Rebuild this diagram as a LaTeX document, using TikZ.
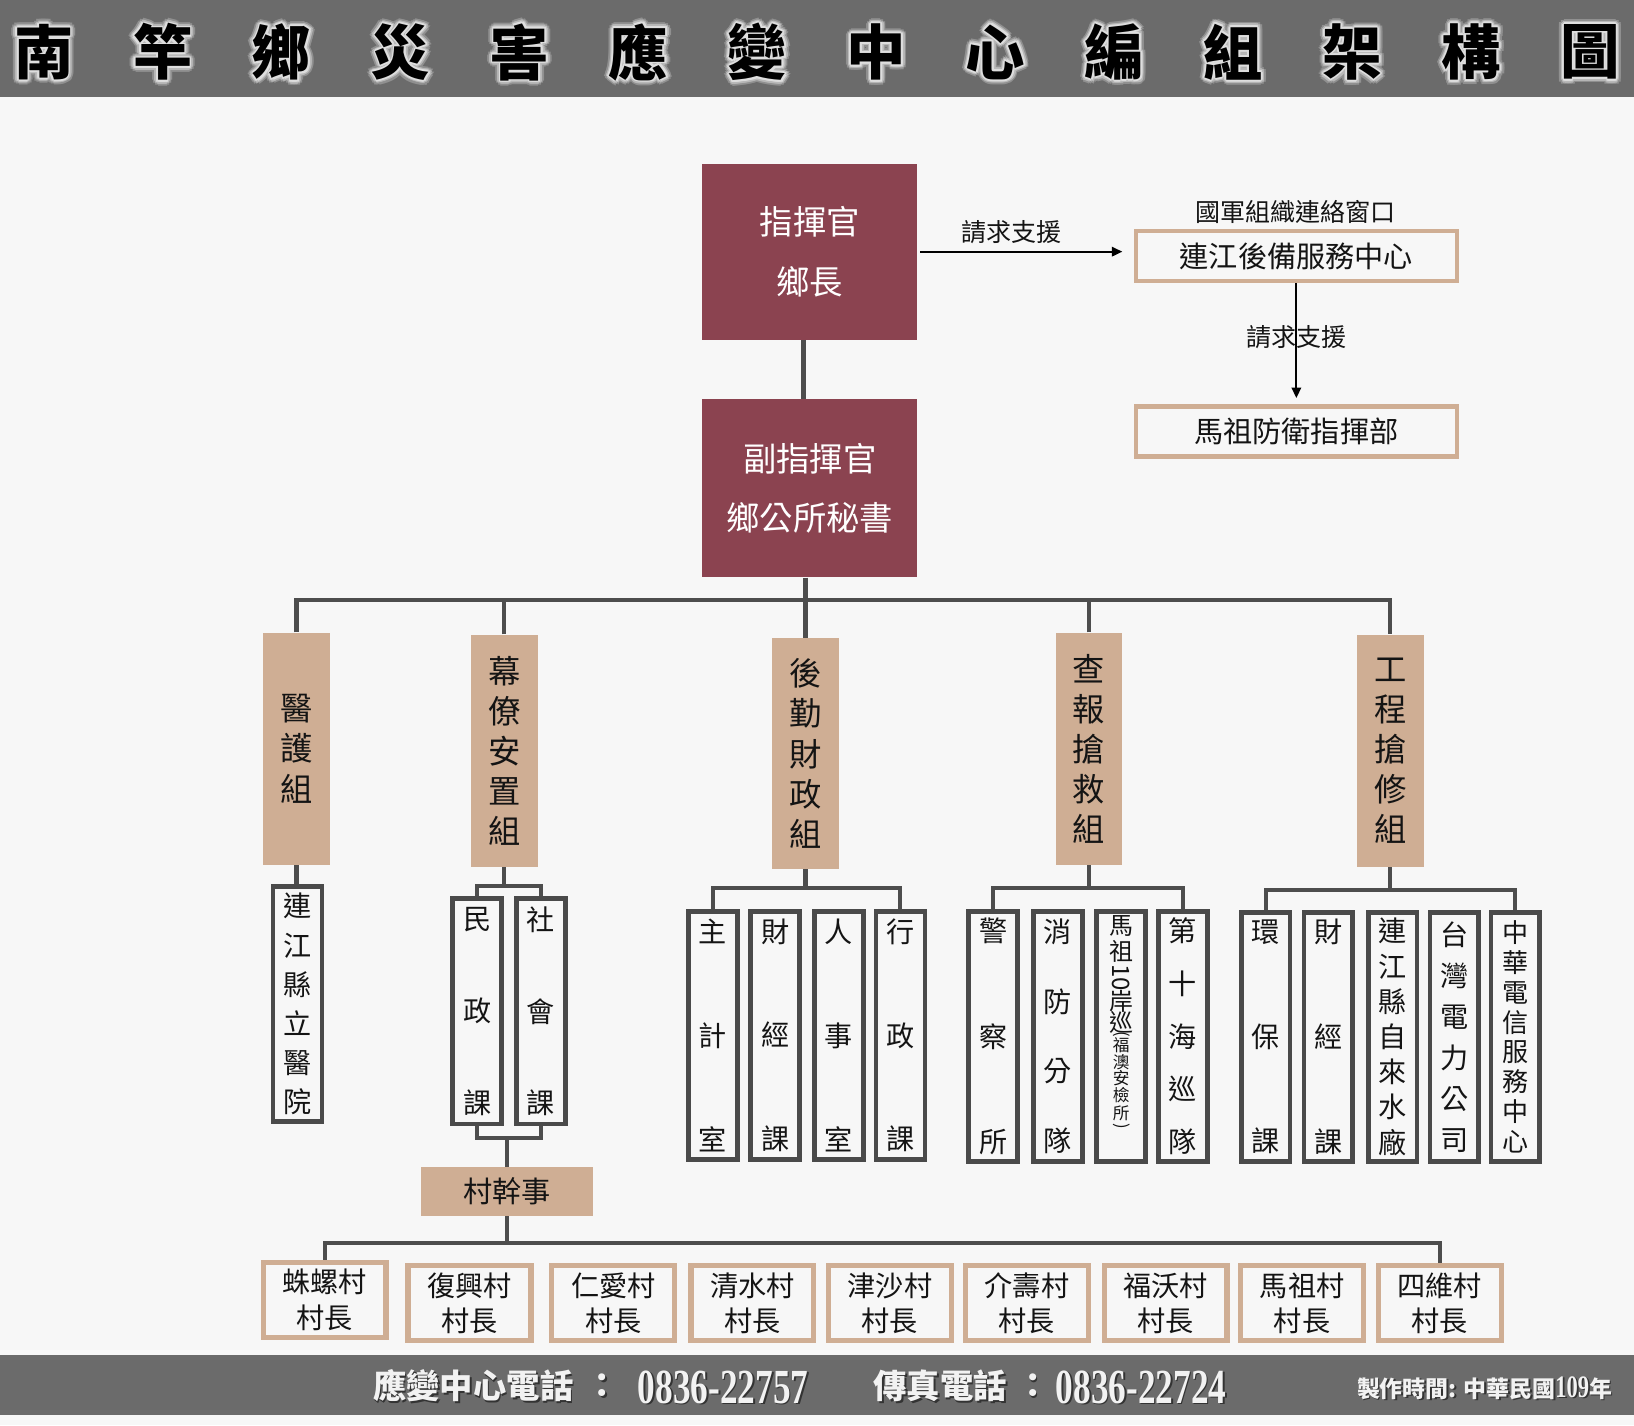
\documentclass[tikz,border=0pt]{standalone}
\usepackage{fontspec}
\usepackage{graphicx}
\usetikzlibrary{arrows.meta}
\newfontfamily\cjk{Noto Sans CJK TC}
\newfontfamily\digitfont{Liberation Serif}[FakeStretch=0.72]
\definecolor{bgc}{HTML}{F7F7F7}
\definecolor{band}{HTML}{6B6B6B}
\definecolor{maroon}{HTML}{8B4350}
\definecolor{tan}{HTML}{CFAE94}
\definecolor{linec}{HTML}{4D4D4D}
\definecolor{subc}{HTML}{4A4A4A}
\definecolor{txt}{HTML}{141414}
\definecolor{haloA}{HTML}{909090}
\definecolor{haloB}{HTML}{B8B8B8}
\definecolor{haloC}{HTML}{DEDEDE}
\definecolor{foot}{HTML}{F2F2F2}
\definecolor{footsh}{HTML}{333333}
\begin{document}
\begin{tikzpicture}[x=1pt,y=-1pt,
  conn/.style={draw=linec, line width=4pt, line join=miter},
  arr/.style={draw=black, line width=1.8pt, -{Triangle[length=10pt,width=9pt]}},
  cmdbox/.style={fill=maroon, inner sep=0pt, minimum width=206pt, text=white, align=center, font={\cjk\fontsize{32}{57}\selectfont}},
  sidebox/.style={draw=tan, line width=4pt, fill=bgc, inner sep=0pt, minimum width=308pt, minimum height=48pt, text=txt, font={\cjk\fontsize{28}{30}\selectfont}},
  grpbox/.style={fill=tan, inner sep=0pt, minimum width=64pt, minimum height=223pt, align=center, text=txt, font={\cjk\fontsize{31}{38.5}\selectfont}},
  subbox/.style={draw=subc, line width=4.5pt, fill=bgc, inner sep=0pt, minimum width=47pt, align=center, text=txt},
  vsp/.style={font={\cjk\fontsize{27}{#1}\selectfont}},
  vilbox/.style={draw=tan, line width=5pt, fill=bgc, inner sep=0pt, minimum width=118pt, minimum height=72pt, align=center, text=txt, font={\cjk\fontsize{27}{34}\selectfont}},
  lbl/.style={inner sep=0pt, text=txt, font={\cjk\fontsize{24}{26}\selectfont}},
  ttl/.style={inner sep=0pt, font={\cjk\bfseries\fontsize{57}{60}\selectfont}},
  ftc/.style={inner sep=0pt, anchor=west, font={\cjk\bfseries\fontsize{32}{34}\selectfont}},
  ftd/.style={inner sep=0pt, anchor=west, font={\digitfont\bfseries\fontsize{47}{50}\selectfont}},
  mzch/.style={inner sep=0pt, text=txt, font={\cjk\fontsize{#1}{#1}\selectfont}},
]
\useasboundingbox (0,0) rectangle (1568,1367.5);
% background and bands
\fill[bgc] (0,0) rectangle (1568,1367.5);
\fill[band] (0,0) rectangle (1568,93);
\fill[band] (0,1300) rectangle (1568,1358);

% title with glow
\foreach \c [count=\i from 0] in {南,竿,鄉,災,害,應,變,中,心,編,組,架,構,圖}{
  \pgfmathsetmacro\tx{42+114.15*\i}
  \foreach \a in {0,30,...,330}{
    \node[ttl, text=haloA, xshift={5*cos(\a)}, yshift={5*sin(\a)}] (ha\i-\a) at (\tx,50) {\c};
  }
  \foreach \a in {15,45,...,345}{
    \node[ttl, text=haloB, xshift={3.3*cos(\a)}, yshift={3.3*sin(\a)}] (hb\i-\a) at (\tx,50) {\c};
  }
  \foreach \a in {0,45,...,315}{
    \node[ttl, text=haloC, xshift={1.8*cos(\a)}, yshift={1.8*sin(\a)}] (hc\i-\a) at (\tx,50) {\c};
  }
  \node[ttl, text=black] (t\i) at (\tx,50) {\c};
}

% command boxes
\node[cmdbox, minimum height=169pt] (cmd1) at (777,241.5) {指揮官\\鄉長};
\node[cmdbox, minimum height=171pt] (cmd2) at (777,468.5) {副指揮官\\鄉公所秘書};
\draw[conn] ([xshift=-6pt]cmd1.south) -- ([xshift=-6pt]cmd2.north);

% support boxes
\node[sidebox] (side1) at (1244,246) {連江後備服務中心};
\node[sidebox] (side2) at (1244,414) {馬祖防衛指揮部};
\node[lbl] (lab0) at (1243,203) {國軍組織連絡窗口};
\draw[arr] ([xshift=3pt]cmd1.east) -- ([xshift=-11pt]cmd1.east -| side1.west)
  node[lbl, pos=0.45, above=7pt] (lab1) {請求支援};
\draw[arr] (side1.south) -- ([yshift=6pt]side2.north)
  node[lbl, midway, yshift=3pt] (lab2) {請求支援};

% groups
\node[grpbox] (g1) at (284.5,718.5) {醫\\護\\組};
\node[grpbox] (g2) at (484,720.5) {幕\\僚\\安\\置\\組};
\node[grpbox, minimum height=222pt] (g3) at (773,723) {後\\勤\\財\\政\\組};
\node[grpbox] (g4) at (1045,718.5) {查\\報\\搶\\救\\組};
\node[grpbox] (g5) at (1334,720.5) {工\\程\\搶\\修\\組};

\coordinate (bus) at (773,576);
\draw[conn] ([xshift=-4pt]cmd2.south) -- ([xshift=-4pt]cmd2.south |- bus);
\draw[conn] (g1.north) -- (g1.north |- bus) -- (g5.north |- bus) -- (g5.north);
\foreach \g in {g2,g3,g4}{
  \draw[conn] (\g.north) -- (\g.north |- bus);
}

% medical
\node[subbox, minimum height=226pt, vsp=37.6] (s1) at (285.5,963.5) {連\\江\\縣\\立\\醫\\院};
\draw[conn] (g1.south) -- (g1.south |- s1.north);

% staff
\node[subbox, minimum height=216pt, vsp=88] (s2a) at (458,970.5) {民\\政\\課};
\node[subbox, minimum height=216pt, vsp=88] (s2b) at (519,970.5) {社\\會\\課};
\coordinate (b2) at ([yshift=-18pt]g2.south);
\draw[conn] (g2.south) -- (b2);
\draw[conn] (s2a.north) -- (s2a.north |- b2) -- (s2b.north |- b2) -- (s2b.north);
\node[fill=tan, inner sep=0pt, minimum width=165pt, minimum height=47pt, text=txt, font={\cjk\fontsize{28}{30}\selectfont}] (vg) at (486.5,1143.5) {村幹事};
\coordinate (b2b) at (486.5,1092);
\draw[conn] (s2a.south) -- (s2a.south |- b2b) -- (s2b.south |- b2b) -- (s2b.south);
\draw[conn] (vg.north) -- (b2b);

% logistics
\node[subbox, minimum height=238pt, vsp=99.5] (s3a) at (684,993.5) {主\\計\\室};
\node[subbox, minimum height=238pt, vsp=99.5] (s3b) at (744,993.5) {財\\經\\課};
\node[subbox, minimum height=238pt, vsp=99.5] (s3c) at (805,993.5) {人\\事\\室};
\node[subbox, minimum height=238pt, vsp=99.5] (s3d) at (864,993.5) {行\\政\\課};
\coordinate (b3) at ([yshift=-18pt]g3.south);
\draw[conn] (g3.south) -- (b3);
\draw[conn] (s3a.north) -- (s3a.north |- b3) -- (s3d.north |- b3) -- (s3d.north);

% rescue
\node[subbox, minimum height=240pt, vsp=101] (s4a) at (953,994.5) {警\\察\\所};
\node[subbox, minimum height=240pt, vsp=67] (s4b) at (1015,994.5) {消\\防\\分\\隊};
\node[subbox, minimum height=240pt] (s4c) at (1076,994.5) {};
\node[subbox, minimum height=240pt, vsp=50.5] (s4d) at (1135,994.5) {第\\十\\海\\巡\\隊};
\foreach \c/\yy/\s [count=\k] in {馬/889/23, 祖/913/23, {\rotatebox{-90}{10}}/938/23, 岸/961/23, 巡/981/23, {\rotatebox{-90}{(}}/993/16, 福/1003/16, 澳/1019/16, 安/1035/16, 檢/1051/16, 所/1068/16, {\rotatebox{-90}{)}}/1081/16}{
  \node[mzch=\s] (mz\k) at (1076,\yy) {\c};
}
\coordinate (b4) at ([yshift=-22pt]g4.south);
\draw[conn] (g4.south) -- (b4);
\draw[conn] (s4a.north) -- (s4a.north |- b4) -- (s4d.north |- b4) -- (s4d.north);

% engineering
\node[subbox, minimum width=46.5pt, minimum height=239pt, vsp=100.5] (s5a) at (1214.5,995) {環\\保\\課};
\node[subbox, minimum width=46.5pt, minimum height=239pt, vsp=100.5] (s5b) at (1274.5,995) {財\\經\\課};
\node[subbox, minimum width=46.5pt, minimum height=239pt, vsp=33.8] (s5c) at (1336.5,995) {連\\江\\縣\\自\\來\\水\\廠};
\node[subbox, minimum width=46.5pt, minimum height=239pt, vsp=39.3] (s5d) at (1395.5,995) {台\\灣\\電\\力\\公\\司};
\node[subbox, minimum width=46.5pt, minimum height=239pt, font={\cjk\fontsize{25}{28.6}\selectfont}] (s5e) at (1454,995) {中\\華\\電\\信\\服\\務\\中\\心};
\coordinate (b5) at ([yshift=-22pt]g5.south);
\draw[conn] (g5.south) -- (b5);
\draw[conn] (s5a.north) -- (s5a.north |- b5) -- (s5e.north |- b5) -- (s5e.north);

% villages
\node[vilbox] (v1) at (311.5,1247.5) {蛛螺村\\村長};
\node[vilbox] (v2) at (450.5,1250.5) {復興村\\村長};
\node[vilbox] (v3) at (588.5,1250.5) {仁愛村\\村長};
\node[vilbox] (v4) at (722,1250.5) {清水村\\村長};
\node[vilbox] (v5) at (854,1250.5) {津沙村\\村長};
\node[vilbox] (v6) at (985.5,1250.5) {介壽村\\村長};
\node[vilbox] (v7) at (1118.5,1250.5) {福沃村\\村長};
\node[vilbox] (v8) at (1249.5,1250.5) {馬祖村\\村長};
\node[vilbox] (v9) at (1381.5,1250.5) {四維村\\村長};
\coordinate (vb) at (486.5,1193);
\draw[conn] (vg.south) -- (vb);
\draw[conn] (v1.north) -- (v1.north |- vb) -- (v9.north |- vb) -- (v9.north);

% footer
\foreach \dx/\dy/\col/\p in {1.5/1.5/footsh/s, 0/0/foot/m}{
  \node[ftc, text=\col, xshift=\dx, yshift=-\dy] (f1\p) at (358,1330) {應變中心電話};
  \node[ftc, text=\col, xshift=\dx, yshift=-\dy] (f2\p) at (562,1330) {：};
  \node[ftd, text=\col, xshift=\dx, yshift=-\dy] (f3\p) at (612,1331) {0836-22757};
  \node[ftc, text=\col, xshift=\dx, yshift=-\dy] (f4\p) at (838,1330) {傳真電話};
  \node[ftc, text=\col, xshift=\dx, yshift=-\dy] (f5\p) at (975,1330) {：};
  \node[ftd, text=\col, xshift=\dx, yshift=-\dy] (f6\p) at (1013,1331) {0836-22724};
  \node[ftc, text=\col, xshift=\dx, yshift=-\dy, font={\cjk\bfseries\fontsize{22}{24}\selectfont}] (f7\p) at (1302,1332) {製作時間: 中華民國{\digitfont\fontsize{30}{30}\selectfont 109}年};
}
\end{tikzpicture}
\end{document}
